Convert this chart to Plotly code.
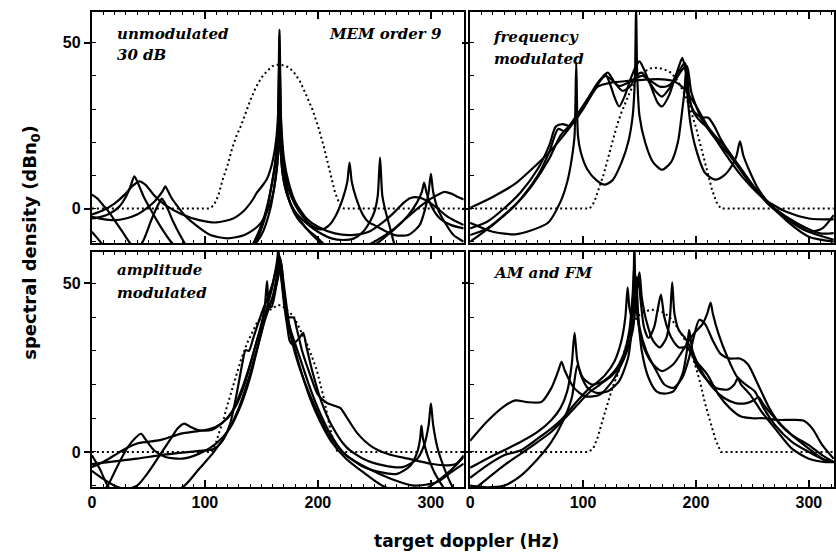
import plotly.graph_objects as go

# ---------------- data (Hz, dBn0) ----------------
# Panel 1: unmodulated, 30 dB
P1_DOT = [(0,0),(104,0),(108,1),(112,4),(116,9),(120,13),(124,18),(128,22),(132,25),(136,29),(140,32.5),
          (145,36.5),(150,39.5),(155,41.5),(160,43),(166,43.5),(172,43),(178,41.5),(184,38.5),(190,34),
          (195,30),(200,25),(205,19),(210,12),(215,5),(219,1.5),(223,0),(329,0)]
P1_A = [(0,4.2),(5,3),(10,1),(15,-1),(20,-3.5),(27,-7),(35,-11),(45,-15),(60,-18),(90,-20),(120,-18),(140,-12),
        (150,-5),(156,2),(160,9),(163,16),(165,25),(166,35),(167,25),(169,15),(172,7),(176,1),(182,-3),(190,-6),
        (200,-9),(210,-12),(230,-13),(250,-10),(268,-6),(280,-2),(288,2),(292,5),(294,7.8),(296,5),(300,1),
        (308,-3),(318,-5),(329,-6)]
P1_B = [(0,-3),(8,-2.5),(16,-1.5),(24,0.5),(30,3.5),(34,6.5),(37.6,9.7),(41,7.5),(46,3.5),(52,-0.3),(60,-5),
        (70,-10),(90,-16),(120,-18),(145,-10),(153,-3),(158,5),(162,13),(164.5,25),(166,54),(167.5,25),(170,13),
        (174,6),(180,1),(188,-3),(196,-5.5),(203,-6.3),(210,-5),(216,-2),(222,3),(226,8),(228,13.9),(230,8),
        (234,3),(240,-2),(245,-4.2),(250,-5),(258,-6.5),(268,-8),(280,-8),(290,-5),(295,0),(298,5),(300,10.5),
        (302,5),(306,0),(312,-4),(320,-8),(329,-10)]
P1_C = [(0,-1.8),(10,-0.5),(20,1.5),(30,4.5),(36,6.8),(42,8.2),(48,7),(55,4),(65,1),(80,-1.8),(95,-3.5),
        (110,-4.2),(125,-3),(135,-0.5),(142,2.5),(146,4.8),(150,6.5),(155,9),(159,13),(162,18),(164.5,26),
        (166,46),(167.5,26),(170,15),(174,8),(180,2),(190,-3),(200,-5.5),(215,-7.5),(230,-8),(245,-7),
        (258,-4),(268,-1),(276,1.8),(282,3.2),(290,3.3),(298,2),(306,0),(315,-2.5),(329,-5)]
P1_D = [(0,-2.5),(10,-3.2),(20,-3.5),(30,-3),(40,-1.8),(48,0),(55,2),(60,4),(63,5.5),(65,6.7),(67,5.5),
        (70,3.5),(75,1),(82,-2),(92,-5),(105,-8),(120,-9),(135,-8),(148,-5),(155,-1),(160,4),(163,10),
        (165,18),(166,30),(167,18),(169,10),(173,4),(180,-1),(190,-4.5),(200,-7),(212,-9),(222,-9.5),
        (232,-9),(240,-7),(246,-4),(250,-1),(253,4),(255,15.4),(257,4),(260,-1),(264,-6),(268,-11),
        (275,-15),(290,-17),(310,-15),(329,-12)]
P1_E = [(0,-7),(5,-9),(10,-11),(20,-14),(35,-14),(45,-10),(52,-4),(57,0),(60,2),(62,3),(64,2),(67,0),
        (72,-4),(78,-8),(85,-12),(100,-17),(130,-16),(150,-8),(158,0),(162,8),(164.5,15),(166,25),
        (167.5,15),(170,8),(175,2),(183,-3),(195,-8),(210,-12),(230,-13),(250,-11),(265,-7),(278,-3),
        (290,0.5),(300,3),(308,4.5),(312,5),(318,4.5),(324,3.5),(329,2.7)]

# Panel 2: frequency modulated
P2_DOT = [(0,0),(106,0),(110,2),(114,6),(118,10),(122,15),(126,20),(130,25),(134,29),(138,32.5),(142,35.5),
          (146,38),(150,40),(155,41.5),(160,42.3),(166,42.5),(172,42),(178,41),(184,38.5),(190,34.5),
          (195,30),(200,24.5),(205,18),(210,11),(214,6),(218,2),(222,0),(322,0)]
P2_A = [(0,-4.3),(20,-7),(40,-7.8),(55,-6.5),(69,-4.3),(80,2),(86,8),(90,15),(92.5,22),(94,44),(95.5,22),
        (98,17),(104,11.7),(112,8.5),(119,7.2),(126,8.5),(134,13.8),(140,20),(144,28),(146,40),(147,62),
        (148,40),(150,28),(155,20),(162,14),(170,11.7),(178,14),(184,20),(188,30),(190,36),(191,41),
        (192,36),(195,26),(200,18),(208,10.8),(217,8.7),(225,10),(232,13),(236,16),(239,20.3),(242,16),
        (247,11.7),(255,6),(265,1.5),(282,-4.2),(300,-8.5),(322,-10)]
P2_B = [(0,0.2),(20,3.5),(40,7.5),(54,11.7),(70,17),(85,23),(100,30),(113,36.8),(125,38),(140,38.5),
        (155,38.9),(170,39),(180,38.5),(190,36),(200,31),(210,25),(225,17),(240,10),(260,3),(280,-1),
        (300,-3),(322,-3.3)]
P2_C = [(0,-6),(15,-4),(30,0),(45,5),(60,12),(70,19),(76,24.8),(82,25.5),(88,25),(95,28),(104,33),
        (112,37.5),(117,39.5),(120,40.4),(124,37.5),(128,33.5),(132,30.8),(137,34),(142,39),(147,43),
        (150,44.4),(154,42),(160,37),(166,32),(170,30.8),(176,34),(181,39),(185,43),(188,45.5),(191,41),
        (194,33),(199,29),(205,27.5),(211,27.4),(216,25),(222,21),(235,14),(250,7),(265,1),(280,-3),
        (300,-7),(322,-9.4)]
P2_D = [(0,-8),(15,-6),(30,-2),(45,3),(60,10),(70,17),(78,24),(84,23.3),(92,27),(100,31),(110,36),
        (118,40),(122,41),(128,38),(135,35.5),(142,37),(147,40),(152,41),(158,38.5),(164,35.5),(170,33.8),
        (176,36),(182,40),(186,42),(190,44),(192,42),(194,34),(198,29),(205,26),(212,24),(218,21.5),
        (225,19),(240,12),(255,5),(270,0),(290,-4.5),(310,-7.5),(322,-7.4)]
P2_E = [(0,-10),(20,-5),(40,1),(55,7),(70,15),(80,22),(88,25),(95,27.5),(105,33),(115,38.5),(120,40),
        (125,39),(132,37),(140,38),(147,39.5),(153,40),(160,38.5),(168,36.8),(175,37),(182,39),(188,42),
        (192,43),(196,35),(205,27),(215,22),(230,16),(245,9),(260,3),(280,-3),(300,-7),(312,-6),(322,-2)]

# Panel 3: amplitude modulated
P3_DOT = [(0,0),(106,0),(110,3),(114,7),(117,10.3),(120,14),(123,17.3),(127,22),(131.6,27),(137.4,32.3),
          (142,35.5),(146,38.3),(152,40.5),(158,42.2),(164,43.5),(168,43.5),(173,42),(178.6,40.2),
          (184,36.5),(190,32.3),(195,28),(199,24.3),(205,16.3),(208,11.5),(210.6,7.3),(214,3),(217,0.3),
          (220,0),(329,0)]
P3_A = [(0,-14),(8,-12),(14,-10),(20,-6),(26,-2),(32,1.5),(38,4),(43.5,5.4),(48,3.5),(55,0.5),(65,-1.5),
        (80,-2),(95,-0.5),(110,2.5),(122,7),(132,14),(140,22),(146,30),(151,37),(155,43),(159,48),(162,53),
        (164,57),(165,60),(166,57),(168,51),(171,43),(175,36),(180,29),(188,21),(198,13),(210,5),(225,-1),
        (245,-5),(265,-8),(285,-10),(305,-9),(318,-6),(329,-3.5)]
P3_B = [(0,-5.6),(10,-8),(20,-10),(30,-11),(40,-10),(50,-6),(60,-1),(70,4),(76,7),(81.6,8.4),(87,7.5),
        (94,6.5),(99,6.3),(106,6.5),(115,8.5),(124,12),(132,18),(140,26),(146,33),(150,38),(153,43),
        (155,50.7),(157,43),(159,43),(162,47),(165,53),(167,56),(169,50),(171,44),(174,40),(178.6,39.8),
        (181,37),(186,30),(193,23),(200,17),(208,14.5),(214,13.8),(220,13),(226,10),(235,5.5),(248,1.5),
        (262,-0.6),(280,-2),(300,-3.5),(315,-4),(322,-3.6),(329,-1)]
P3_C = [(0,-3.6),(20,-2.8),(40,-2),(60,-1),(80,-0.2),(95,0.3),(107,0.8),(115,3),(122,8),(128,17),(133,26),
        (136,30.2),(139,30),(143,34),(148,39),(152,42.8),(156,46),(160,50),(163,54),(165,55.5),(167,53),
        (170,44),(173,37),(175,33),(177,32),(180,32.5),(184,34),(187,35.3),(190,31),(195,24),(203,15),
        (212,8),(225,1.5),(240,-2),(258,-4),(275,-4.5),(288,-2),(294,2),(298,8),(300,14.4),(302,8),
        (306,1),(312,-5),(320,-11),(329,-16)]
P3_D = [(0,-1),(7,-5),(14,-10),(25,-14),(45,-15),(65,-13),(82,-10),(95,-5),(108,0),(120,6),(130,13),
        (138,21),(144,28),(149,34),(153,39),(157,43),(160,46),(163,51),(166,58),(168,55),(170,47),(173,40),
        (176,36),(179,33),(185,27),(192,20),(200,13),(210,6),(222,0),(238,-4),(255,-6),(270,-6.5),(282,-4),
        (288,0),(290.5,4),(291.6,7.8),(293,4),(297,-1),(303,-6),(310,-10),(318,-14)]
P3_E = [(0,-4.5),(10,-3),(20,-1),(30,1),(40,2.5),(50,3),(60,3.5),(70,4.5),(80,5.5),(90,6),(100,6.5),
        (110,7.5),(120,10),(128,14),(135,20),(141,27),(146,33),(150,37),(154,41),(158,44),(162,48),(165,52),
        (167,57),(169,52),(172,44),(175,37),(180,30),(186,23),(193,16),(202,9),(212,3),(225,-2),(240,-6),
        (258,-10.2),(275,-12),(295,-11),(312,-7),(322,-4),(329,-1.5)]

# Panel 4: AM and FM
P4_DOT = [(0,0),(105,0),(109,1),(113,4.3),(117,9),(122,14.3),(126,19),(131,23.3),(135,28),(139.5,33.2),
          (144,37.5),(148,40.2),(154,41.5),(160,42.2),(166,42),(172,41.3),(178,39.5),(183,37.2),(189,34),
          (195,30.2),(200,25),(204,20.3),(208,14.5),(213,8.4),(217,4),(222,0),(322,0)]
P4_A = [(0,3.3),(15,9),(30,13.5),(40,15.3),(50,14.8),(63,14.8),(72,19),(78,24),(81,26.7),(84,24),(92,19),
        (102,16.5),(115,17),(128,22),(137,29),(142,37),(144.5,47),(145.5,62),(146.5,47),(150,37),(156,30),
        (165,24),(172,20),(180,19),(188,22),(194,28),(198,34),(203,39.2),(208,38),(215,33),(222,29),
        (230,27.7),(239,27.7),(246,26),(255,20),(265,13),(275,8),(285,5),(300,2),(312,-1),(322,-3)]
P4_B = [(0,-4.7),(15,-2),(30,0.5),(45,3),(60,6),(72,9.5),(80,13),(86,18),(90,26),(92.5,35.3),(95,27),
        (100,22),(108,20),(118,21),(128,24),(136,29),(141,36),(144,47),(145.5,56),(147,45),(150,36),
        (155,30),(162,26),(170,24),(180,26),(190,31),(198,35),(206,38),(210,41),(213,44.3),(215,41),
        (220,35),(228,28),(236,22.5),(244,20),(252,18),(260,13),(270,8),(285,3),(300,0),(315,-2.5),(322,-3)]
P4_C = [(0,-7.7),(15,-4),(30,-1),(45,0.5),(60,4),(72,7),(82,10),(92,14),(100,17),(106,19),(112,20.5),
        (120,23),(128,27),(134,33),(137.5,40),(139.5,48.8),(141,43),(143,40),(146,45),(148,50),(150,53.3),
        (152,46),(156,39),(162,33),(168,31),(174,34),(177,40),(179,50.3),(181,41),(185,36),(190,34),
        (195,31),(200,26),(208,22),(218,19),(228,18.5),(234,20),(237,21.8),(240,20),(248,17),(258,12),
        (270,7),(285,1),(300,-2),(315,-3),(322,-3)]
P4_D = [(0,-10),(15,-10.5),(30,-10),(45,-7),(60,-2),(72,3),(82,9),(90,16),(95,25.7),(99,22),(104,19),
        (112,17.5),(122,18),(132,21),(140,28),(143,36),(145,45),(147,52),(149,40),(152,30),(158,22),
        (165,18),(172,17.3),(180,18),(188,23),(192,30),(194,36.2),(197,30),(205,24),(215,19),(225,16),
        (235,14.5),(245,14.5),(252,15.5),(255.5,16.3),(260,14),(270,10),(285,5),(300,1),(312,-2),(322,-3)]
P4_E = [(0,-12),(15,-8),(30,-4),(45,-0.5),(60,3),(72,6),(84,10),(95,14),(105,17.5),(115,20),(125,22.5),
        (133,25.5),(139,30),(144,36),(147,45),(149,52),(151,45),(154,37),(158,33.8),(163,37),(166,42),
        (169,46.7),(172,40),(178,34),(185,31),(192,31),(200,27),(210,23),(220,17),(230,13),(240,10.5),
        (250,10),(260,10),(272,9.5),(285,9.5),(295,9.3),(303,7),(312,2),(322,-2)]

X_TICKS = [0, 100, 200, 300]
Y_TICKS = [0, 50]
PANEL_LABELS = ["unmodulated", "30 dB", "MEM order 9", "frequency", "modulated",
                "amplitude", "modulated", "AM and FM"]
X_TITLE = "target doppler (Hz)"
Y_TITLE = "spectral density (dBn<sub>0</sub>)"

# ---------------- figure ----------------
W, H = 836, 556
panels = [
    (P1_DOT, [P1_A, P1_B, P1_C, P1_D, P1_E], "", 329.0),
    (P2_DOT, [P2_A, P2_B, P2_C, P2_D, P2_E], "2", 322.3),
    (P3_DOT, [P3_A, P3_B, P3_C, P3_D, P3_E], "3", 329.0),
    (P4_DOT, [P4_A, P4_B, P4_C, P4_D, P4_E], "4", 322.3),
]

fig = go.Figure()
for dot, curves, sfx, xmax in panels:
    for c in curves:
        fig.add_trace(go.Scatter(x=[p[0] for p in c], y=[p[1] for p in c], mode="lines",
                                 line=dict(color="black", width=2.2, shape="spline", smoothing=0.7),
                                 xaxis="x" + sfx, yaxis="y" + sfx,
                                 showlegend=False, hoverinfo="skip"))
    fig.add_trace(go.Scatter(x=[p[0] for p in dot], y=[p[1] for p in dot], mode="lines",
                             line=dict(color="black", width=2, dash="2px,3px"),
                             xaxis="x" + sfx, yaxis="y" + sfx, showlegend=False, hoverinfo="skip"))

xl = (88.5 / W, 463 / W)
xr = (469.5 / W, 1.0)
yt = (1 - 243 / H, 1 - 11.7 / H)
yb = (1 - 487 / H, 1 - 251.7 / H)
tickfont = dict(family="Liberation Sans", size=16, color="black", weight="bold")

def xax(dom, xmax, show):
    return dict(domain=dom, range=[0, xmax], showline=True, linecolor="black", linewidth=2,
                mirror="ticks", ticks="inside", ticklen=7, tickwidth=1.5, tickcolor="black",
                tickmode="array", tickvals=X_TICKS, showticklabels=show, tickfont=tickfont,
                minor=dict(tickmode="linear", tick0=0, dtick=10, ticks="inside", ticklen=3.5,
                           tickwidth=1, tickcolor="black"),
                showgrid=False, zeroline=False, fixedrange=True)

def yax(dom, anchor, show):
    return dict(domain=dom, range=[-10.4, 59.4], showline=True, linecolor="black", linewidth=2,
                mirror=True, ticks="outside", ticklen=6, tickwidth=1.5, tickcolor="black",
                tickmode="array", tickvals=Y_TICKS, showticklabels=show, tickfont=tickfont,
                minor=dict(tickmode="linear", tick0=0, dtick=10, ticks="inside", ticklen=4,
                           tickwidth=1, tickcolor="black"),
                showgrid=False, zeroline=False, anchor=anchor, fixedrange=True)

fig.update_layout(
    width=W, height=H, margin=dict(l=0, r=0, t=0, b=0),
    paper_bgcolor="white", plot_bgcolor="white",
    xaxis=dict(xax(xl, 329.0, False), anchor="y"),
    yaxis=yax(yt, "x", True),
    xaxis2=dict(xax(xr, 322.3, False), anchor="y2"),
    yaxis2=yax(yt, "x2", False),
    xaxis3=dict(xax(xl, 329.0, True), anchor="y3"),
    yaxis3=yax(yb, "x3", True),
    xaxis4=dict(xax(xr, 322.3, True), anchor="y4"),
    yaxis4=yax(yb, "x4", False),
)

lab_font = dict(family="DejaVu Serif", size=15, color="black")
def lab(text, px, py, anchor="left"):
    fig.add_annotation(text="<b><i>" + text + "</i></b>", x=px / W, y=1 - py / H, xref="paper",
                       yref="paper", xanchor=anchor, yanchor="middle", showarrow=False, font=lab_font)

lab(PANEL_LABELS[0], 112, 34)
lab(PANEL_LABELS[1], 112, 55)
lab(PANEL_LABELS[2], 443, 34, "right")
lab(PANEL_LABELS[3], 491, 37)
lab(PANEL_LABELS[4], 492, 59)
lab(PANEL_LABELS[5], 112, 270)
lab(PANEL_LABELS[6], 112, 293)
lab(PANEL_LABELS[7], 491, 273)

title_font = dict(family="DejaVu Sans", size=17, color="black")
fig.add_annotation(text="<b>" + X_TITLE + "</b>", x=466 / W, y=1 - 541 / H, xref="paper", yref="paper",
                   xanchor="center", yanchor="middle", showarrow=False, font=title_font)
fig.add_annotation(text="<b>" + Y_TITLE + "</b>", x=27 / W, y=1 - 242 / H, xref="paper", yref="paper",
                   xanchor="center", yanchor="middle", showarrow=False, textangle=-90,
                   font=dict(family="DejaVu Sans", size=18, color="black"))

fig.write_html("out.html")
